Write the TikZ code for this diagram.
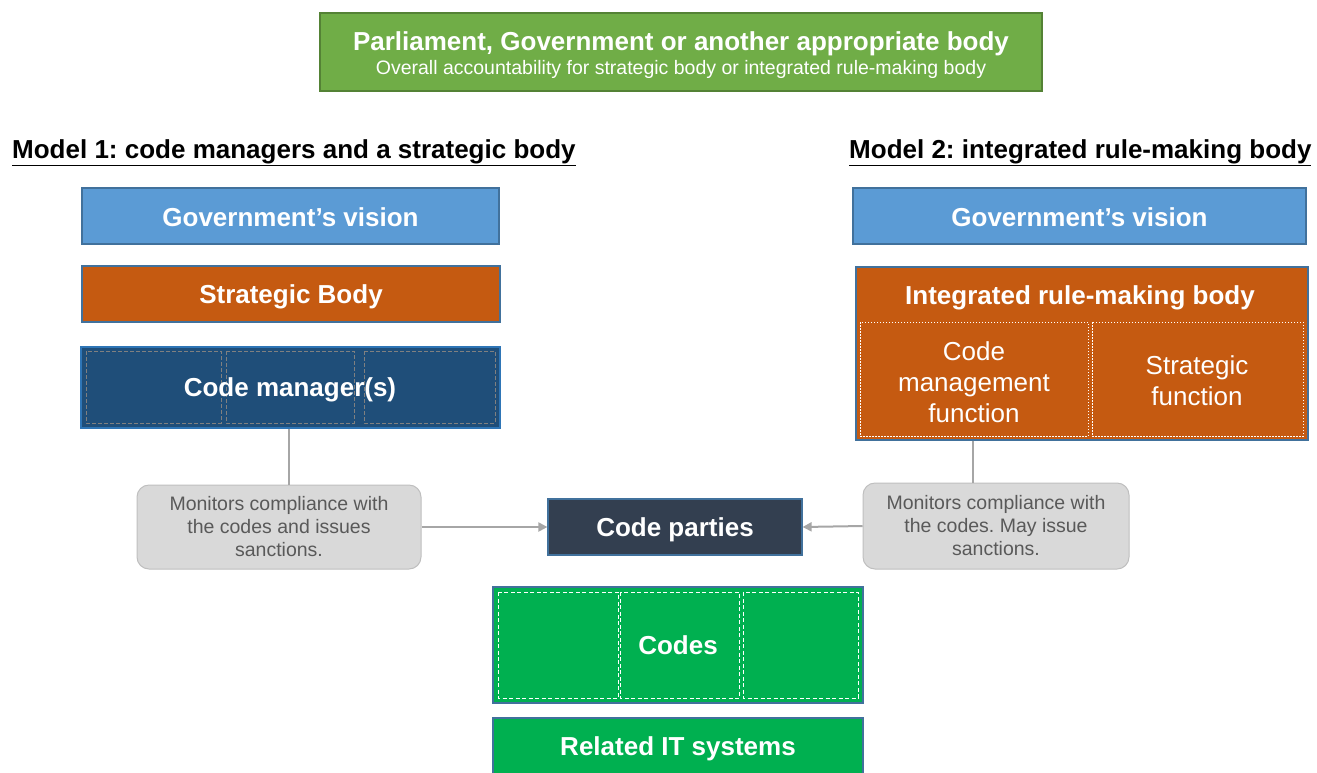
\documentclass[tikz,border=0pt]{standalone}
\usepackage{fontspec}
\setmainfont{Liberation Sans}
\usetikzlibrary{arrows.meta}
\frenchspacing
\definecolor{topgreen}{HTML}{70AD47}
\definecolor{topgreenb}{HTML}{548235}
\definecolor{visblue}{HTML}{5B9BD5}
\definecolor{orng}{HTML}{C55A11}
\definecolor{navy}{HTML}{1F4E79}
\definecolor{navyb}{HTML}{2E75B6}
\definecolor{dark}{HTML}{333F50}
\definecolor{codegreen}{HTML}{00B050}
\definecolor{boxb}{HTML}{41719C}
\definecolor{graybox}{HTML}{D9D9D9}
\definecolor{grayboxb}{HTML}{BFBFBF}
\definecolor{graytext}{HTML}{595959}
\definecolor{linegray}{HTML}{A6A6A6}
\tikzset{
  bx/.style={draw=boxb, line width=1.2pt, text=white, font=\fontsize{26}{30}\selectfont\bfseries, inner sep=0pt},
  btxt/.style={text=white, font=\fontsize{26}{30}\selectfont\bfseries, inner sep=0pt},
  gbox/.style={draw=grayboxb, fill=graybox, rounded corners=12pt, line width=1pt, text=graytext, align=center, font=\fontsize{19.5}{23}\selectfont, inner sep=0pt},
  conn/.style={draw=linegray, line width=2pt},
  arr/.style={conn, -{Triangle[length=9pt,width=9pt]}},
  hdr/.style={font=\fontsize{26}{30}\selectfont\bfseries, anchor=base west, inner sep=0pt},
}
\begin{document}
\begin{tikzpicture}[x=1pt,y=-1pt]
\useasboundingbox (0,0) rectangle (1317,772);
% top box
\node[draw=topgreenb, fill=topgreen, line width=1.5pt, minimum width=722pt, minimum height=78pt, inner sep=0pt] (top) at (681,52) {};
\node[text=white, font=\fontsize{26}{30}\selectfont\bfseries, anchor=base, inner sep=0pt] (topt) at (681,50) {Parliament, Government or another appropriate body};
\node[text=white, font=\fontsize{19.5}{23}\selectfont, anchor=base, inner sep=0pt] (tops) at (681,74) {Overall accountability for strategic body or integrated rule-making body};
% headers
\node[hdr] (h1) at (12,158) {\underline{Model 1: code managers and a strategic body}};
\node[hdr] (h2) at (849,158) {\underline{Model 2: integrated rule-making body}};
% model 1
\node[bx, fill=visblue, minimum width=417pt, minimum height=56pt] (gv1) at (290.5,216) {};
\node[btxt] (gv1t) at (290.5,217) {Government’s vision};
\node[bx, fill=orng, minimum width=418pt, minimum height=56pt] (sb) at (291,294) {};
\node[btxt] (sbt) at (291,297) {Strategic Body};
\node[bx, fill=navy, draw=navyb, minimum width=419pt, minimum height=81pt] (cm) at (290.5,387.5) {};
\foreach \a/\b in {86/221,226/354,364/495}{
  \draw[gray, line width=0.8pt, dash pattern=on 4pt off 2pt] (\a,351) rectangle (\b,423);
}
\node[btxt] (cmt) at (290,390) {Code manager(s)};
\node[gbox, minimum width=284pt, minimum height=84pt] (g1) at (279,527) {Monitors compliance with\\the codes and issues\\sanctions.};
% center
\node[bx, fill=dark, minimum width=254pt, minimum height=56pt] (cp) at (675,527) {};
\node[btxt] (cpt) at (675,530) {Code parties};
\node[bx, fill=codegreen, minimum width=370pt, minimum height=116pt] (codes) at (678,645) {};
\foreach \a/\b in {498/618,620/739,743/858}{
  \draw[white, line width=0.8pt, dash pattern=on 4pt off 2.5pt] (\a,592) rectangle (\b,698);
}
\node[btxt] (codest) at (678,645) {Codes};
\node[bx, fill=codegreen, minimum width=370pt, minimum height=60pt] (it) at (678,748) {};
\node[btxt] (itt) at (678,749) {Related IT systems};
% model 2
\node[bx, fill=visblue, minimum width=453pt, minimum height=56pt] (gv2) at (1079.5,216) {};
\node[btxt] (gv2t) at (1079.5,217) {Government’s vision};
\node[bx, fill=orng, minimum width=452pt, minimum height=173pt] (irb) at (1082,353.5) {};
\node[btxt] (irbt) at (1080,298) {Integrated rule-making body};
\draw[white, line width=0.8pt, dash pattern=on 1.5pt off 1.5pt] (860,322) rectangle (1088,436);
\draw[white, line width=0.8pt, dash pattern=on 1.5pt off 1.5pt] (1092,322) rectangle (1303,436);
\node[text=white, align=center, font=\fontsize{26}{31}\selectfont] (cmf) at (974,382) {Code\\management\\function};
\node[text=white, align=center, font=\fontsize{26}{31}\selectfont] (sf) at (1197,381) {Strategic\\function};
\node[gbox, minimum width=266pt, minimum height=86pt] (g2) at (996,526) {Monitors compliance with\\the codes. May issue\\sanctions.};
% connectors
\draw[conn] (cm.south -| 289,0) -- (g1.north -| 289,0);
\draw[arr] (g1.east) -- (cp.west);
\draw[conn] (irb.south -| 973,0) -- (g2.north -| 973,0);
\draw[arr] (g2.west) -- (cp.east);
\end{tikzpicture}
\end{document}
